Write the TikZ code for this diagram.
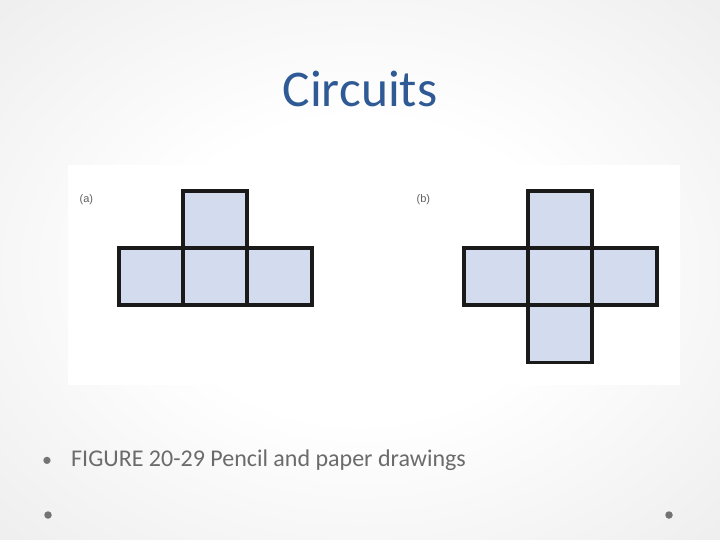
\documentclass[tikz,border=0pt]{standalone}
\usepackage{fontspec}
\setmainfont{Carlito}
\newfontfamily\labelfont{Liberation Sans}
\definecolor{titleblue}{HTML}{2F5A96}
\definecolor{textgray}{HTML}{6B6B6B}
\definecolor{dotgray}{HTML}{737373}
\definecolor{cellfill}{HTML}{D3DBEE}
\definecolor{cellline}{HTML}{1A1A1A}
\pgfdeclareradialshading{slidebg}{\pgfpoint{0bp}{0bp}}{color(0bp)=(white); color(14bp)=(white); color(50bp)=(black!11); color(72bp)=(black!17)}
\begin{document}
\begin{tikzpicture}[x=1pt,y=-1pt,
  cell/.style={draw=cellline, fill=cellfill, line width=3.2pt, minimum width=64pt, minimum height=57pt, inner sep=0pt},
  wcell/.style={cell, minimum width=65pt},
  sublabel/.style={font=\labelfont\fontsize{11}{13}\selectfont, text=black!62, anchor=west, inner sep=0pt},
  footdot/.style={circle, fill=dotgray, inner sep=0pt, minimum size=7.5pt}]
\useasboundingbox (0,0) rectangle (720,540);
\shade[shading=slidebg] (0,0) rectangle (720,540);
\fill[white] (68,165) rectangle (680,385);
% title
\node[font=\fontsize{51.5}{62}\selectfont, text=titleblue, anchor=base, inner sep=0pt] (title) at (360,107) {Circuits};
% (a)
\node[sublabel] (la) at (79.5,200) {(a)};
\node[cell] (atop) at (215,219.5) {};
\node[cell] (aleft) at (151,276.5) {};
\node[cell] (amid) at (215,276.5) {};
\node[wcell] (aright) at (279.5,276.5) {};
% (b)
\node[sublabel] (lb) at (416.5,200) {(b)};
\node[cell] (btop) at (560,219.5) {};
\node[cell] (bleft) at (496,276.5) {};
\node[cell] (bmid) at (560,276.5) {};
\node[wcell] (bright) at (624.5,276.5) {};
\node[cell] (bbot) at (560,334) {};
% caption
\node[font=\fontsize{20}{24}\selectfont, text=dotgray, anchor=base, inner sep=0pt] (bul) at (47,466) {•};
\node[font=\fontsize{24}{29}\selectfont, text=textgray, anchor=base west, inner sep=0pt] (cap) at (71,466) {FIGURE 20-29 Pencil and paper drawings};
\node[footdot] (dl) at (48,515) {};
\node[footdot] (dr) at (669,515) {};
\end{tikzpicture}
\end{document}
